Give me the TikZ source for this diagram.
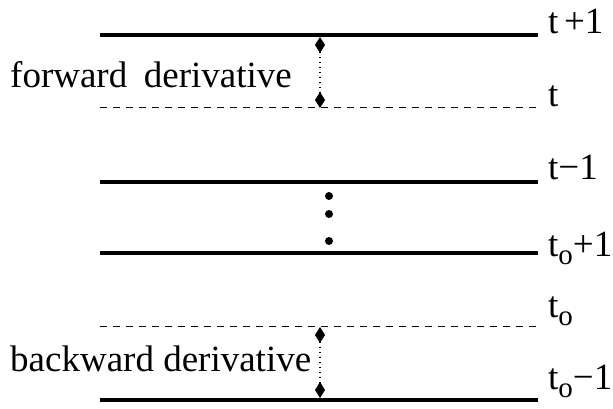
\documentclass[tikz,border=0pt]{standalone}
\usepackage{fontspec}
\setmainfont{Liberation Serif}
\usetikzlibrary{arrows.meta}
\begin{document}
\begin{tikzpicture}[x=1pt,y=1pt,
  lvl/.style={line width=3.5pt},
  dlvl/.style={line width=1pt, dash pattern=on 7pt off 6pt},
  lab/.style={anchor=base west, inner sep=0pt, font=\fontsize{37}{37}\selectfont},
  darr/.style={line width=1.2pt, dash pattern=on 1.2pt off 3.8pt,
     {Kite[length=16pt,width=10pt,inset=8pt]}-{Kite[length=16pt,width=10pt,inset=8pt]}},
  dotc/.style={fill=black, circle, inner sep=0pt, minimum size=8pt}
]
\useasboundingbox (0,0) rectangle (613,409);
% level endpoints (y = 409 - image y)
\coordinate (l1a) at (100,374); \coordinate (l1b) at (538,374);
\coordinate (l2a) at (100,301); \coordinate (l2b) at (536,301);
\coordinate (l3a) at (100,227); \coordinate (l3b) at (538,227);
\coordinate (l4a) at (100,156); \coordinate (l4b) at (538,156);
\coordinate (l5a) at (100,82);  \coordinate (l5b) at (536,82);
\coordinate (l6a) at (100,9);   \coordinate (l6b) at (538,9);
\draw[lvl] (l1a) -- (l1b);
\draw[dlvl] (l2a) -- (l2b);
\draw[lvl] (l3a) -- (l3b);
\draw[lvl] (l4a) -- (l4b);
\draw[dlvl] (l5a) -- (l5b);
\draw[lvl] (l6a) -- (l6b);
% arrows
\coordinate (fa) at (320,372); \coordinate (fb) at (320,301);
\coordinate (ba) at (320,82);  \coordinate (bb) at (320,11);
\draw[darr] (fb) -- (fa);
\draw[darr] (ba) -- (bb);
% dots
\node[dotc] (d1) at (329,213) {};
\node[dotc] (d2) at (329,195) {};
\node[dotc] (d3) at (329,168) {};
% labels
\node[lab] (lf) at (10,321) {forward\hspace{0.2em} derivative};
\node[lab] (lb) at (10,37) {backward derivative};
\node[lab] (t1) at (548,375) {t\hspace{0.15em}+1};
\node[lab] (t2) at (548,302) {t};
\node[lab] (t3) at (548,229) {t−1};
\node[lab] (t4) at (548,152) {t\raisebox{-8pt}{\fontsize{29}{29}\selectfont o}+1};
\node[lab] (t5) at (548,91) {t\raisebox{-8pt}{\fontsize{29}{29}\selectfont o}};
\node[lab] (t6) at (548,19) {t\raisebox{-8pt}{\fontsize{29}{29}\selectfont o}−1};
\end{tikzpicture}
\end{document}
